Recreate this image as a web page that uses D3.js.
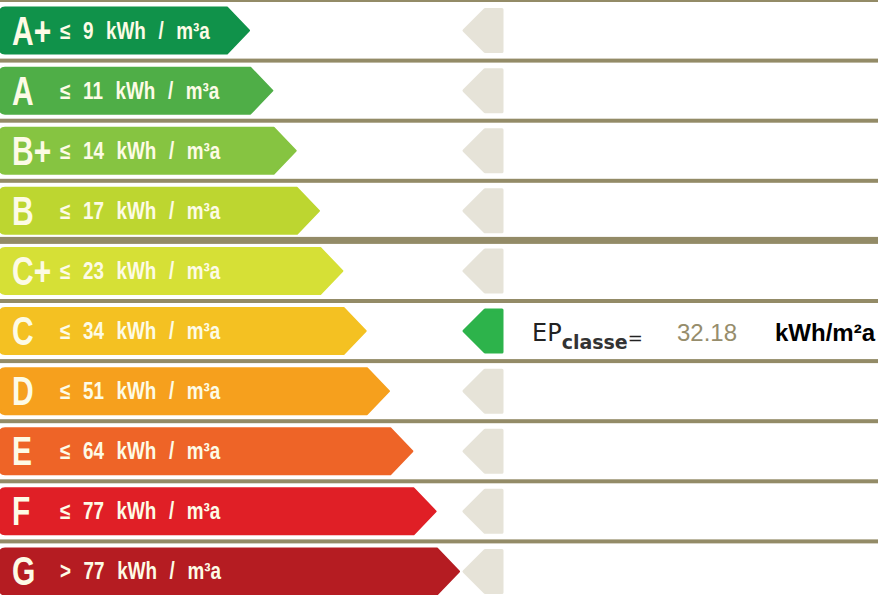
<!DOCTYPE html>
<html>
<head>
<meta charset="utf-8">
<script src="https://cdn.jsdelivr.net/npm/d3@7"></script>
<style>
  body { margin: 0; background: #fff; }
  svg { display: block; }
</style>
</head>
<body>
<div id="chart"></div>
<script>
var width = 878;
var height = 595;

// energy classes, top to bottom
var classes = ["A+", "A", "B+", "B", "C+", "C", "D", "E", "F", "G"];
var limits = ["≤ 9", "≤ 11", "≤ 14", "≤ 17", "≤ 23", "≤ 34", "≤ 51", "≤ 64", "≤ 77", "> 77"];
var colors = ["#10924a", "#4fae47", "#86c441", "#bdd630", "#d6e036", "#f4c122", "#f6a01d", "#ee6427", "#e01f26", "#b51c22"];
var unit = "kWh / m³a";

// result
var epClass = "C";
var epValue = 32.18;
var epUnit = "kWh/m²a";

var svg = d3.select("#chart")
            .append("svg")
            .attr("width", width)
            .attr("height", height);

// rows
var yScale = d3.scaleBand().domain(classes).range([0.5, 601.5]).paddingInner(0);
// arrow tip grows with each class
var tipScale = d3.scaleLinear().domain([0, classes.length - 1]).range([249, 459]);

var half = 23;
var slant = 22;
var r = 5;

function rowMid(d) {
    return yScale(d) + yScale.bandwidth() / 2;
}

function barPath(d, i) {
    var cy = rowMid(d);
    var top = cy - half, bot = cy + half;
    var tip = tipScale(i);
    return "M" + r + "," + top +
           "L" + (tip - slant) + "," + top +
           "L" + tip + "," + cy +
           "L" + (tip - slant) + "," + bot +
           "L" + r + "," + bot +
           "Q0," + bot + " 0," + (bot - r) +
           "L0," + (top + r) +
           "Q0," + top + " " + r + "," + top + "Z";
}

function markerPath(d) {
    var cy = rowMid(d);
    var x0 = 464, x1 = 485, x2 = 502;
    return "M" + x0 + "," + cy +
           "L" + x1 + "," + (cy - 21) +
           "L" + x2 + "," + (cy - 21) +
           "L" + x2 + "," + (cy + 21) +
           "L" + x1 + "," + (cy + 21) + "Z";
}

// separator lines
svg.append("rect")
    .attr("x", 0).attr("y", 0)
    .attr("width", width).attr("height", 2)
    .attr("fill", "#938b67");

svg.selectAll("rect.sep")
    .data(classes.slice(1))
    .enter()
    .append("rect")
    .attr("class", "sep")
    .attr("x", 0)
    .attr("y", function(d, i) { return yScale(d) - (i == 3 ? 4 : 2); })
    .attr("width", width)
    .attr("height", function(d, i) { return i == 3 ? 7 : 4; })
    .attr("fill", "#938b67");

// class bars
var rows = svg.selectAll("g.row")
    .data(classes)
    .enter()
    .append("g")
    .attr("class", "row");

rows.append("path")
    .attr("d", barPath)
    .attr("fill", function(d, i) { return colors[i]; })
    .attr("stroke", function(d, i) { return colors[i]; })
    .attr("stroke-width", 2)
    .attr("stroke-linejoin", "round");

rows.append("text")
    .attr("transform", function(d) {
        return "translate(12," + (rowMid(d) + 14) + ") scale(0.75,1)";
    })
    .style("font-family", "Liberation Sans, Arial, sans-serif")
    .style("font-weight", "bold")
    .style("font-size", "40px")
    .attr("fill", "#fdfbe6")
    .text(function(d) { return d; });

// range text, narrow glyphs with wide gaps
rows.append("text")
    .attr("transform", function(d) {
        return "translate(60," + (rowMid(d) + 8) + ") scale(0.82,1)";
    })
    .style("font-family", "Liberation Sans, Arial, sans-serif")
    .style("font-weight", "bold")
    .style("font-size", "23px")
    .style("word-spacing", "9px")
    .attr("fill", "#fdfbe6")
    .text(function(d, i) { return limits[i] + " " + unit; });

// markers column
rows.append("path")
    .attr("d", markerPath)
    .attr("fill", function(d) { return d == epClass ? "#2db34b" : "#e6e3d8"; })
    .attr("stroke", function(d) { return d == epClass ? "#2db34b" : "#e6e3d8"; })
    .attr("stroke-width", 3)
    .attr("stroke-linejoin", "round");

// result label
var cyEp = rowMid(epClass);
var ep = svg.append("text")
    .attr("x", 532)
    .attr("y", cyEp + 10)
    .style("font-family", "DejaVu Sans, sans-serif")
    .style("font-size", "24px")
    .attr("fill", "#222");
ep.append("tspan").text("EP");
ep.append("tspan")
    .attr("dy", 8)
    .style("font-size", "19px")
    .style("font-weight", "bold")
    .attr("fill", "#333")
    .text("classe");
ep.append("tspan")
    .attr("dy", -5)
    .style("font-size", "18px")
    .text("=");

svg.append("text")
    .attr("x", 677)
    .attr("y", cyEp + 10)
    .style("font-family", "Liberation Sans, Arial, sans-serif")
    .style("font-size", "24px")
    .attr("fill", "#968d6c")
    .text(epValue.toFixed(2));

svg.append("text")
    .attr("x", 775)
    .attr("y", cyEp + 10)
    .style("font-family", "Liberation Sans, Arial, sans-serif")
    .style("font-weight", "bold")
    .style("font-size", "24px")
    .attr("fill", "#000")
    .text(epUnit);
</script>
</body>
</html>
